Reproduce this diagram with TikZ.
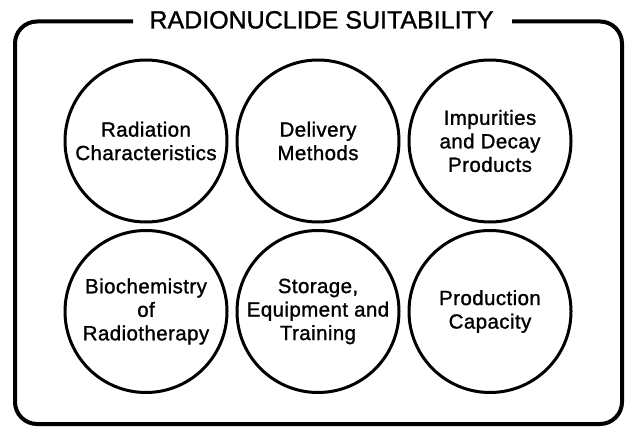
\documentclass[tikz,border=0pt]{standalone}
\usepackage{fontspec}
\setmainfont{Liberation Sans}
\begin{document}
\begin{tikzpicture}[x=1pt,y=-1pt,
  topic/.style={circle,draw,line width=3pt,minimum size=162pt,inner sep=0pt,align=center,
    font=\fontsize{20.5}{23.5}\selectfont\addfontfeature{LetterSpace=2,FakeBold=1.2}},
  frame/.style={line width=4pt,rounded corners=22pt},
  heading/.style={anchor=base,inner sep=0pt,font=\fontsize{25}{30}\selectfont\addfontfeature{FakeBold=1.2}}]
\useasboundingbox (0,0) rectangle (629,428);
\fill[white] (0,0) rectangle (629,428);
% frame with gap for the title
\coordinate (fa) at (133,21.5);
\coordinate (ftl) at (15,21.5);
\coordinate (fbl) at (15,424);
\coordinate (fbr) at (622,424);
\coordinate (ftr) at (622,21.5);
\coordinate (fb) at (512,21.5);
\draw[frame] (fa) -- (ftl) -- (fbl) -- (fbr) -- (ftr) -- (fb);
\node[heading] (title) at (321.5,28.5) {RADIONUCLIDE SUITABILITY};
% topics
\node[topic] (rad) at (146,141) {Radiation\\Characteristics};
\node[topic] (del) at (318,141) {Delivery\\Methods};
\node[topic] (imp) at (490,141) {Impurities\\and Decay\\Products};
\node[topic] (bio) at (146,311.5) {Biochemistry\\of\\Radiotherapy};
\node[topic] (sto) at (318,311.5) {Storage,\\Equipment and\\Training};
\node[topic] (pro) at (490,311.5) {Production\\Capacity};
\end{tikzpicture}
\end{document}
